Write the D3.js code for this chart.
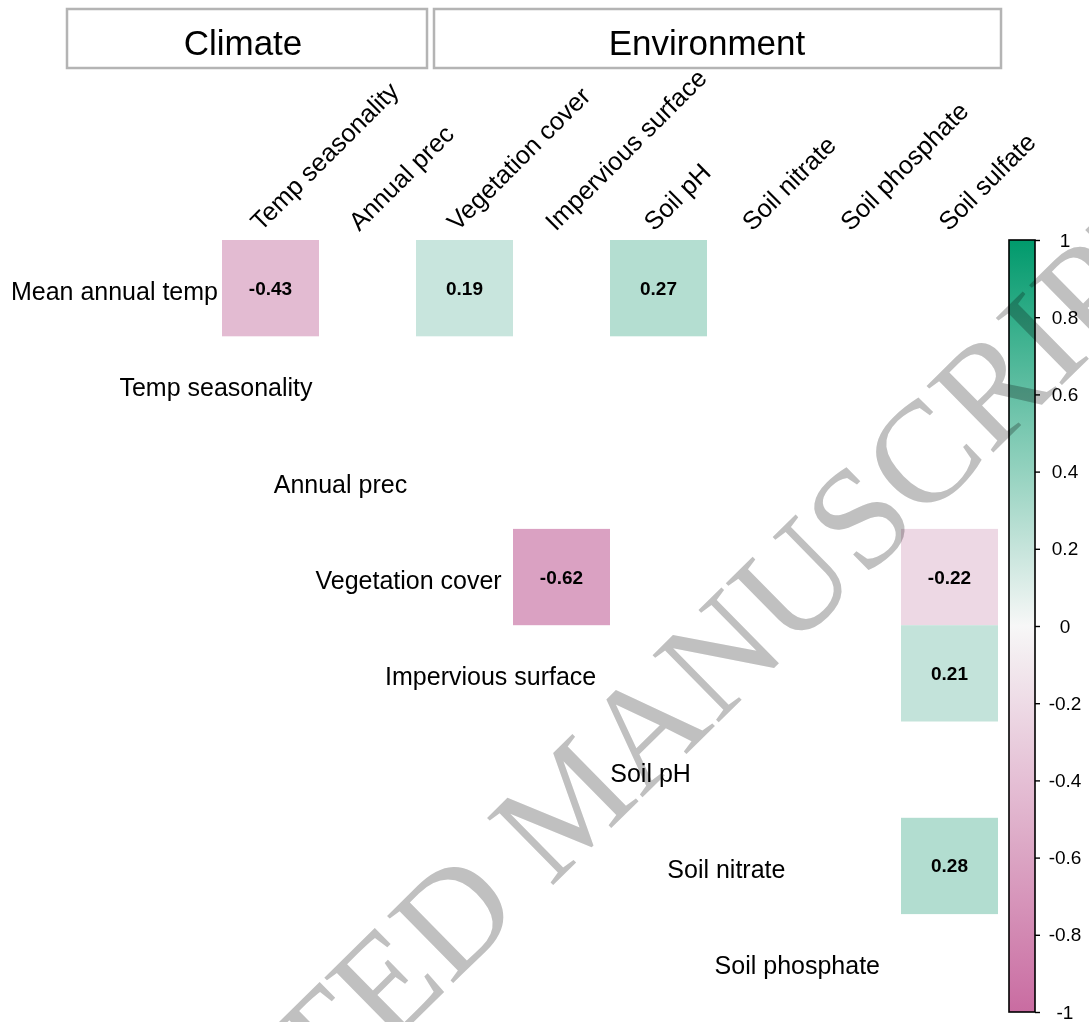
<!DOCTYPE html>
<html>
<head>
<meta charset="utf-8">
<script src="https://cdn.jsdelivr.net/npm/d3@7"></script>
<style>
  html, body { margin: 0; padding: 0; background: #ffffff; }
  svg { display: block; }
  text { font-family: Arial, "Liberation Sans", Helvetica, sans-serif; fill: #000; }
</style>
</head>
<body>
<svg id="chart" width="1089" height="1022"></svg>
<script>
// Variables along the rows (left) and columns (top) of the upper triangle
const rowVars = ["Mean annual temp", "Temp seasonality", "Annual prec", "Vegetation cover",
                 "Impervious surface", "Soil pH", "Soil nitrate", "Soil phosphate"];
const colVars = ["Temp seasonality", "Annual prec", "Vegetation cover", "Impervious surface",
                 "Soil pH", "Soil nitrate", "Soil phosphate", "Soil sulfate"];

// Significant pairwise correlations (non-significant pairs are left blank)
const corrRow = ["Mean annual temp", "Mean annual temp", "Mean annual temp", "Vegetation cover",
                 "Vegetation cover", "Impervious surface", "Soil nitrate"];
const corrCol = ["Temp seasonality", "Vegetation cover", "Soil pH", "Impervious surface",
                 "Soil sulfate", "Soil sulfate", "Soil sulfate"];
const corrVal = [-0.43, 0.19, 0.27, -0.62, -0.22, 0.21, 0.28];

// Variable groups shown in the header boxes
const groupNames = ["Climate", "Environment"];

// Colour-bar tick values
const legendTicks = [1, 0.8, 0.6, 0.4, 0.2, 0, -0.2, -0.4, -0.6, -0.8, -1];

const cells = corrVal.map((v, i) => ({ row: corrRow[i], col: corrCol[i], value: v }));

const svg = d3.select("#chart");

const x = d3.scaleBand().domain(colVars).range([222, 222 + 97 * colVars.length]);
const y = d3.scaleBand().domain(rowVars).range([240, 240 + 96.3 * rowVars.length]);
const color = d3.scaleLinear().domain([-1, 0, 1])
  .range(["#c96ca1", "#f7f7f7", "#009a6c"]).interpolate(d3.interpolateRgb);

// Header boxes
const groupBoxes = [
  { name: groupNames[0], x0: 67, x1: 427, tx: 243 },
  { name: groupNames[1], x0: 434, x1: 1001, tx: 707 }
];
const hdr = svg.append("g");
hdr.selectAll("rect").data(groupBoxes).join("rect")
  .attr("x", d => d.x0).attr("y", 9)
  .attr("width", d => d.x1 - d.x0).attr("height", 59)
  .attr("fill", "none").attr("stroke", "#b4b4b4").attr("stroke-width", 2.5);
hdr.selectAll("text").data(groupBoxes).join("text")
  .attr("x", d => d.tx).attr("y", 42)
  .attr("text-anchor", "middle").attr("dominant-baseline", "central")
  .style("font-size", "35px")
  .text(d => d.name);

// Correlation tiles
const tiles = svg.append("g");
tiles.selectAll("rect").data(cells).join("rect")
  .attr("x", d => x(d.col)).attr("y", d => y(d.row))
  .attr("width", x.bandwidth()).attr("height", y.bandwidth())
  .attr("fill", d => color(d.value));
tiles.selectAll("text").data(cells).join("text")
  .attr("x", d => x(d.col) + x.bandwidth() / 2)
  .attr("y", d => y(d.row) + y.bandwidth() / 2)
  .attr("text-anchor", "middle").attr("dominant-baseline", "central")
  .style("font-size", "19px").style("font-weight", "bold")
  .text(d => d.value.toFixed(2));

// Row labels, right-aligned along the diagonal
const rowLabelX = d3.scaleLinear().domain([0, rowVars.length - 1]).range([218, 880]);
svg.append("g").selectAll("text").data(rowVars).join("text")
  .attr("x", (d, i) => rowLabelX(i))
  .attr("y", d => y(d) + y.bandwidth() / 2 + 3)
  .attr("text-anchor", "end").attr("dominant-baseline", "central")
  .style("font-size", "25px")
  .text(d => d);

// Column labels, rotated 45 degrees
const colLabelX = d3.scaleLinear().domain([0, colVars.length - 1]).range([261, 949]);
svg.append("g").selectAll("text").data(colVars).join("text")
  .attr("transform", (d, i) => `translate(${colLabelX(i)},${232}) rotate(-45)`)
  .attr("text-anchor", "start")
  .style("font-size", "25.5px")
  .text(d => d);

// Colour bar
const cbY = d3.scaleLinear().domain([-1, 1]).range([1012, 240]);
const defs = svg.append("defs");
const grad = defs.append("linearGradient").attr("id", "cbGrad")
  .attr("x1", 0).attr("y1", 1).attr("x2", 0).attr("y2", 0);
d3.range(-1, 1.0001, 0.1).forEach(v => {
  grad.append("stop").attr("offset", (v + 1) / 2).attr("stop-color", color(v));
});
const cbX = 1009, cbW = 26;
svg.append("rect").attr("x", cbX).attr("y", cbY(1))
  .attr("width", cbW).attr("height", cbY(-1) - cbY(1))
  .attr("fill", "url(#cbGrad)").attr("stroke", "#000").attr("stroke-width", 1.6);
const cbAxis = svg.append("g").attr("transform", `translate(${cbX + cbW},0)`)
  .call(d3.axisRight(cbY).tickValues(legendTicks).tickSize(5).tickFormat(d => String(d)));
cbAxis.select(".domain").remove();
cbAxis.selectAll(".tick line").attr("stroke", "#000").attr("stroke-width", 1.4);
cbAxis.selectAll(".tick text")
  .attr("x", 30).attr("text-anchor", "middle")
  .style("font-size", "19px").style("font-family", "Arial, 'Liberation Sans', sans-serif");

// Diagonal manuscript stamp
svg.append("text")
  .attr("transform", "translate(603,836) rotate(-44.5)")
  .attr("text-anchor", "middle")
  .style("font-family", "'Liberation Serif', 'Times New Roman', serif")
  .style("font-size", "144px")
  .style("fill", "#c0c0c0")
  .style("mix-blend-mode", "multiply")
  .text("ACCEPTED MANUSCRIPT");
</script>
</body>
</html>
